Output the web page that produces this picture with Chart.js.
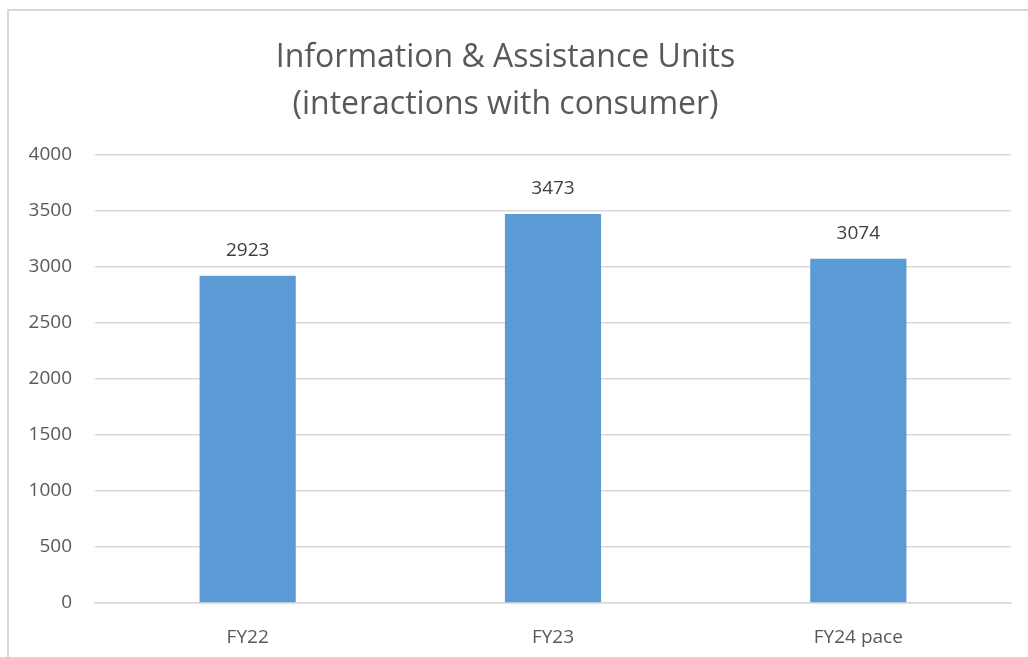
<!DOCTYPE html>
<html>
<head>
<meta charset="utf-8">
<script src="https://cdn.jsdelivr.net/npm/chart.js@4/dist/chart.umd.min.js"></script>
<style>
    body { margin: 0; background: #fff; }
    #frame { position: absolute; left: 7px; top: 9px; width: 1030px; height: 660px; border-left: 2px solid #d9d9d9; border-top: 2px solid #d9d9d9; }
    #wrap { position: absolute; left: 0; top: 0; width: 1028px; height: 657px; }
</style>
</head>
<body>
<div id="frame"></div>
<div id="wrap"><canvas id="myChart" width="1028" height="657"></canvas></div>
<script>
const categories = ['FY22', 'FY23', 'FY24 pace'];
const units = [2923, 3473, 3074];
const titleLines = ['Information & Assistance Units', '(interactions with consumer)'];

// value labels above the bars
const barLabels = {
    id: 'barLabels',
    afterDatasetsDraw(chart) {
        const ctx = chart.ctx;
        const meta = chart.getDatasetMeta(0);
        ctx.save();
        ctx.font = '19px "Open Sans"';
        ctx.fillStyle = '#404040';
        ctx.textAlign = 'center';
        ctx.textBaseline = 'middle';
        meta.data.forEach((bar, i) => {
            ctx.fillText(units[i], bar.x, bar.y - 25);
        });
        ctx.restore();
    }
};

var ctx = document.getElementById('myChart').getContext('2d');
const myChart = new Chart(ctx, {
    type: 'bar',
    data: {
        labels: categories,
        datasets: [{
            label: 'Units',
            data: units,
            backgroundColor: '#5b9bd5',
            barPercentage: 0.315,
            categoryPercentage: 1
        }]
    },
    options: {
        responsive: false,
        animation: false,
        layout: { padding: { left: 0, right: 17, top: 0, bottom: 0 } },
        plugins: {
            legend: { display: false },
            tooltip: { enabled: false },
            title: {
                display: true,
                text: titleLines,
                color: '#595959',
                font: { family: 'Open Sans', size: 32, weight: 'normal', lineHeight: 1.47 },
                padding: { top: 34, bottom: 27 }
            }
        },
        scales: {
            y: {
                min: 0,
                max: 4000,
                ticks: {
                    stepSize: 500,
                    color: '#595959',
                    font: { family: 'Open Sans', size: 19 },
                    padding: 23,
                    callback: (v) => String(v)
                },
                grid: { color: '#d9d9d9', lineWidth: 1.5, drawTicks: false },
                border: { display: false },
                afterFit(scale) { scale.width = 95; }
            },
            x: {
                ticks: {
                    color: '#595959',
                    font: { family: 'Open Sans', size: 19 },
                    padding: 23
                },
                grid: { display: false, drawTicks: false },
                border: { color: '#d9d9d9', width: 1.5 },
                afterFit(scale) { scale.height = 54; }
            }
        }
    },
    plugins: [barLabels]
});
</script>
</body>
</html>
